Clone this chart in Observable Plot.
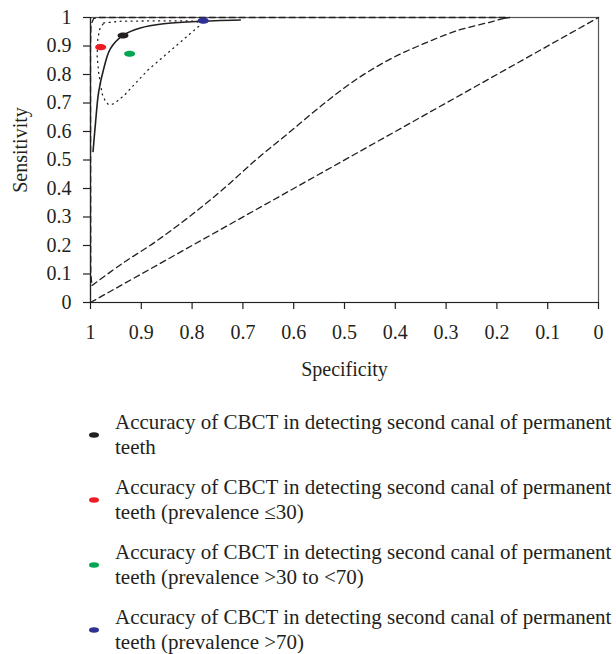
<!DOCTYPE html>
<html><head><meta charset="utf-8">
<script src="https://cdn.jsdelivr.net/npm/d3@7"></script>
<script src="https://cdn.jsdelivr.net/npm/@observablehq/plot@0.6"></script>
<style>
body{margin:0;background:#fff;font-family:"Liberation Serif",serif;color:#231f20;}
#chart{height:390px;}
#legend{margin-top:20px;}
.item{display:flex;align-items:center;height:50px;margin-bottom:15px;}
.item svg{margin-left:88px;flex:none;}
.item .t{margin-left:15px;font-size:21px;line-height:25px;white-space:nowrap;}
</style></head><body>
<div id="chart"></div>
<div id="legend"></div>
<script>
// Axis ticks
const xTicks = [1, 0.9, 0.8, 0.7, 0.6, 0.5, 0.4, 0.3, 0.2, 0.1, 0];
const xTickLabels = ["1", "0.9", "0.8", "0.7", "0.6", "0.5", "0.4", "0.3", "0.2", "0.1", "0"];
const yTicks = [0, 0.1, 0.2, 0.3, 0.4, 0.5, 0.6, 0.7, 0.8, 0.9, 1];
const yTickLabels = ["0", "0.1", "0.2", "0.3", "0.4", "0.5", "0.6", "0.7", "0.8", "0.9", "1"];

// SROC curve (solid)
const srocSpec = [0.995, 0.990, 0.984, 0.974, 0.961, 0.936, 0.902, 0.856, 0.790, 0.705];
const srocSens = [0.530, 0.633, 0.738, 0.820, 0.890, 0.937, 0.963, 0.978, 0.986, 0.991];

// 95% confidence region (dotted, closed)
const ciSpec = [0.974, 0.94, 0.88, 0.82, 0.790, 0.787, 0.888, 0.934, 0.954, 0.964, 0.970, 0.977, 0.984, 0.987, 0.9856, 0.9817];
const ciSens = [0.981, 0.987, 0.988, 0.988, 0.987, 0.969, 0.814, 0.726, 0.697, 0.694, 0.703, 0.732, 0.808, 0.867, 0.925, 0.960];

// 95% prediction region (dashed): curved part and edge part
const prCurveSpec = [0.997, 0.938, 0.873, 0.807, 0.742, 0.676, 0.610, 0.541, 0.475, 0.409, 0.344, 0.278, 0.213, 0.186];
const prCurveSens = [0.060, 0.136, 0.212, 0.299, 0.393, 0.498, 0.595, 0.697, 0.785, 0.855, 0.908, 0.954, 0.984, 0.997];
const prEdgeSpec = [0.186, 0.175, 0.985, 0.994, 0.999, 1.0, 0.9995, 0.997];
const prEdgeSens = [0.997, 1.0, 1.0, 0.996, 0.975, 0.9, 0.1, 0.060];

// Chance line
const chanceSpec = [1, 0];
const chanceSens = [0, 1];

// Summary points
const studyNames = [
  ["Accuracy of CBCT in detecting second canal of permanent", "teeth"],
  ["Accuracy of CBCT in detecting second canal of permanent", "teeth (prevalence \u226430)"],
  ["Accuracy of CBCT in detecting second canal of permanent", "teeth (prevalence >30 to <70)"],
  ["Accuracy of CBCT in detecting second canal of permanent", "teeth (prevalence >70)"]
];
const studySpec = [0.936, 0.980, 0.923, 0.778];
const studySens = [0.937, 0.896, 0.873, 0.989];
const studyColors = ["#231f20", "#ed1c24", "#00a651", "#2e3192"];

const zip = (a, b) => a.map((s, i) => ({spec: s, sens: b[i]}));
const sroc = zip(srocSpec, srocSens);
const ci = zip(ciSpec, ciSens);
const prCurve = zip(prCurveSpec, prCurveSens);
const prEdge = zip(prEdgeSpec, prEdgeSens);
const chance = zip(chanceSpec, chanceSens);
const studies = studySpec.map((s, i) => ({spec: s, sens: studySens[i], color: studyColors[i]}));

const ellipse = {
  draw(ctx, size) {
    const rx = Math.sqrt(size / Math.PI), ry = rx * 0.55, k = 0.5523;
    ctx.moveTo(rx, 0);
    ctx.bezierCurveTo(rx, ry * k, rx * k, ry, 0, ry);
    ctx.bezierCurveTo(-rx * k, ry, -rx, ry * k, -rx, 0);
    ctx.bezierCurveTo(-rx, -ry * k, -rx * k, -ry, 0, -ry);
    ctx.bezierCurveTo(rx * k, -ry, rx, -ry * k, rx, 0);
    ctx.closePath();
  }
};

const chart = Plot.plot({
  width: 616, height: 390,
  marginLeft: 90, marginRight: 18, marginTop: 17, marginBottom: 88,
  style: {fontFamily: "Liberation Serif, serif", fontSize: "20px", color: "#231f20", background: "white", overflow: "visible"},
  x: {domain: [1, 0]},
  y: {domain: [0, 1]},
  marks: [
    Plot.frame({stroke: "#555", strokeWidth: 1.2}),
    Plot.axisX({ticks: xTicks, tickFormat: d => xTickLabels[xTicks.indexOf(d)], tickSize: 7, tickPadding: 15, label: null, strokeWidth: 1.2}),
    Plot.axisY({ticks: yTicks, tickFormat: d => yTickLabels[yTicks.indexOf(d)], tickSize: 7, tickPadding: 12, label: null, strokeWidth: 1.2}),
    Plot.ruleY([0], {stroke: "#231f20", strokeWidth: 1.2}),
    Plot.ruleX([1], {stroke: "#231f20", strokeWidth: 1.2}),
    Plot.line(chance, {x: "spec", y: "sens", stroke: "#231f20", strokeWidth: 1.3, strokeDasharray: "6,4"}),
    Plot.line(prCurve, {x: "spec", y: "sens", stroke: "#231f20", strokeWidth: 1.3, strokeDasharray: "6,4", curve: "catmull-rom"}),
    Plot.line(prEdge, {x: "spec", y: "sens", stroke: "#231f20", strokeWidth: 1.3, strokeDasharray: "6,4"}),
    Plot.line(ci, {x: "spec", y: "sens", stroke: "#231f20", strokeWidth: 1.3, strokeDasharray: "1,4.5", strokeLinecap: "round", curve: "linear-closed"}),
    Plot.line(sroc, {x: "spec", y: "sens", stroke: "#231f20", strokeWidth: 1.6, curve: "catmull-rom"}),
    Plot.dot(studies, {x: "spec", y: "sens", fill: "color", stroke: null, r: 5.5, symbol: ellipse}),
    Plot.text(["Specificity"], {frameAnchor: "bottom", dy: 67, lineAnchor: "middle", textAnchor: "middle", fontSize: 20}),
    Plot.text(["Sensitivity"], {frameAnchor: "left", dx: -70, dy: -10, rotate: -90, textAnchor: "middle", lineAnchor: "middle", fontSize: 20})
  ]
});
document.getElementById("chart").appendChild(chart);

const legend = document.getElementById("legend");
studyNames.forEach((lines, i) => {
  const item = document.createElement("div");
  item.className = "item";
  item.innerHTML = `<svg width="12" height="8"><ellipse cx="6" cy="4" rx="5" ry="2.8" fill="${studyColors[i]}"/></svg><div class="t">${lines.map(l => l.replace(/</g, "&lt;").replace(/>/g, "&gt;")).join("<br>")}</div>`;
  legend.appendChild(item);
});
</script>
</body></html>
